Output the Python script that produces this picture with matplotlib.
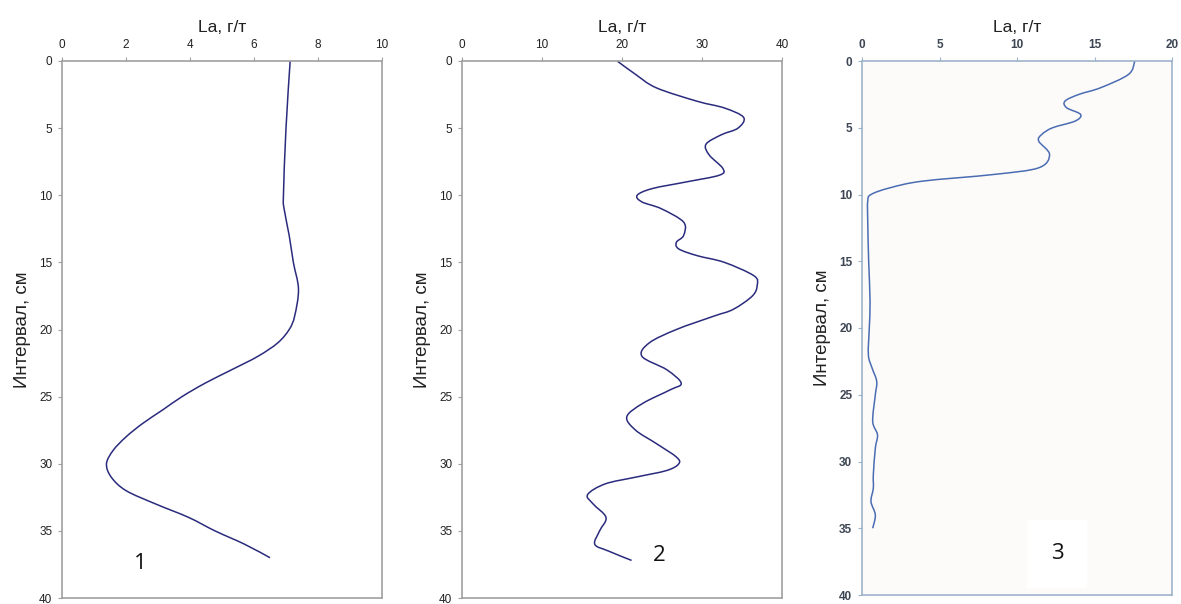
import matplotlib
matplotlib.use("Agg")
import matplotlib.pyplot as plt
from matplotlib.path import Path
from matplotlib.patches import PathPatch
import numpy as np

# ---- data ----
depth1 = [0, 5, 10, 11, 13, 15, 17, 19, 20, 21, 22, 23, 24, 25, 26, 27, 28, 29, 30, 31, 32, 33, 34, 35, 36, 37]
la1 = [7.13, 7.0, 6.92, 6.94, 7.1, 7.23, 7.39, 7.27, 7.1, 6.74, 6.12, 5.3, 4.47, 3.75, 3.14, 2.52, 2.0, 1.6,
       1.39, 1.54, 2.0, 2.93, 3.96, 4.78, 5.71, 6.5]

depth2 = [0, 1, 2, 3, 3.5, 4.2, 5, 5.5, 6.2, 7, 8, 8.5, 9, 9.5, 10, 10.5, 11, 12, 13, 13.5, 14, 14.5, 15, 16,
          16.7, 17.5, 18.5, 19, 20, 21, 22, 23, 24, 24.5, 25.5, 26.5, 27.5, 28.5, 29.5, 30, 30.5, 31, 31.5,
          32.3, 33, 34, 35, 36, 36.5, 37.2]
la2 = [19.4, 21.7, 24.3, 29.4, 32.8, 35.2, 34.5, 32.4, 30.5, 30.9, 32.6, 32.2, 28.1, 23.8, 21.9, 22.5, 24.9,
       27.7, 27.7, 26.8, 27.1, 29.4, 32.8, 36.5, 36.9, 36.3, 33.9, 31.5, 26.8, 23.4, 22.5, 25.6, 27.4, 26.0,
       22.6, 20.6, 21.7, 24.3, 26.8, 27.1, 25.6, 21.7, 17.9, 15.7, 16.4, 18.0, 17.2, 16.6, 18.3, 21.2]

depth3 = [0, 1, 2, 2.5, 3, 3.5, 4, 4.5, 5, 5.5, 6, 7, 8, 8.5, 9, 9.5, 10, 10.5, 12, 15, 18, 20, 22, 23, 24,
          25, 27, 28, 29, 31, 32, 33, 34, 35]
la3 = [17.6, 17.2, 15.4, 14.0, 13.1, 13.2, 14.1, 13.75, 12.3, 11.6, 11.4, 12.1, 11.4, 8.5, 3.9, 1.8, 0.58,
       0.37, 0.37, 0.43, 0.52, 0.47, 0.41, 0.65, 0.95, 0.86, 0.69, 1.0, 0.86, 0.73, 0.73, 0.58, 0.86, 0.69]

xlims = [10, 40, 20]
xticks = [[0, 2, 4, 6, 8, 10], [0, 10, 20, 30, 40], [0, 5, 10, 15, 20]]
yticks = [0, 5, 10, 15, 20, 25, 30, 35, 40]
panel_labels = ["1", "2", "3"]
xlabel = "La, г/т"
ylabel = "Интервал, см"


def smooth_path(xs, ys):
    """Smoothed line (like Excel's smoothed series) through the given points, as Bezier curves."""
    P = np.column_stack([xs, ys]).astype(float)
    n = len(P)
    verts = [P[0]]
    codes = [Path.MOVETO]
    for i in range(n - 1):
        p0 = P[i - 1] if i > 0 else P[i]
        p1 = P[i]
        p2 = P[i + 1]
        p3 = P[i + 2] if i + 2 < n else P[i + 1]
        c1 = p1 + (p2 - p0) / 6.0
        c2 = p2 - (p3 - p1) / 6.0
        verts += [c1, c2, p2]
        codes += [Path.CURVE4, Path.CURVE4, Path.CURVE4]
    return Path(verts, codes)


W, H = 1181, 604
fig = plt.figure(figsize=(W / 100, H / 100), dpi=100)
plt.rcParams["font.family"] = ["Liberation Sans", "DejaVu Sans"]

rects = [
    (62 / W, 1 - 598 / H, 320 / W, 537 / H),
    (462 / W, 1 - 598 / H, 320 / W, 537 / H),
    (862 / W, 1 - 595 / H, 310 / W, 534 / H),
]
data = [(la1, depth1), (la2, depth2), (la3, depth3)]
line_colors = ["#2b2b7e", "#2b2b7e", "#4a6cb3"]
spine_colors = ["#a0a0a0", "#a0a0a0", "#9db3c9"]
tick_colors = ["#222222", "#222222", "#3d4654"]
tick_weights = ["normal", "normal", "bold"]
label_pos = [(2.45, 37.4), (24.7, 36.8), (12.6, 36.9)]

for i in range(3):
    ax = fig.add_axes(rects[i])
    x, y = data[i]
    patch = PathPatch(smooth_path(x, y), facecolor="none", edgecolor=line_colors[i], lw=1.1)
    ax.add_patch(patch)
    ax.set_xlim(0, xlims[i])
    ax.set_ylim(40, 0)
    ax.set_xticks(xticks[i])
    ax.set_yticks(yticks)
    ax.xaxis.tick_top()
    ax.xaxis.set_label_position("top")
    ax.tick_params(axis="both", length=3, width=0.8, colors=spine_colors[i],
                   labelcolor=tick_colors[i], labelsize=8.5, pad=4)
    for lab in ax.get_xticklabels() + ax.get_yticklabels():
        lab.set_fontweight(tick_weights[i])
    for s in ax.spines.values():
        s.set_color(spine_colors[i])
        s.set_linewidth(1.2)
    if i == 2:
        ax.set_facecolor("#fdfbf9")
    ax.set_xlabel(xlabel, fontsize=12.5, labelpad=5, color="#222222")
    ax.set_ylabel(ylabel, fontsize=13.5, labelpad=6, color="#222222")
    bbox = dict(facecolor="white", edgecolor="none", pad=17) if i == 2 else None
    ax.text(label_pos[i][0], label_pos[i][1], panel_labels[i], fontsize=16,
            ha="center", va="center", color="#111111", bbox=bbox,
            family=["Open Sans", "DejaVu Sans"])

fig.savefig("out.png", dpi=100)
